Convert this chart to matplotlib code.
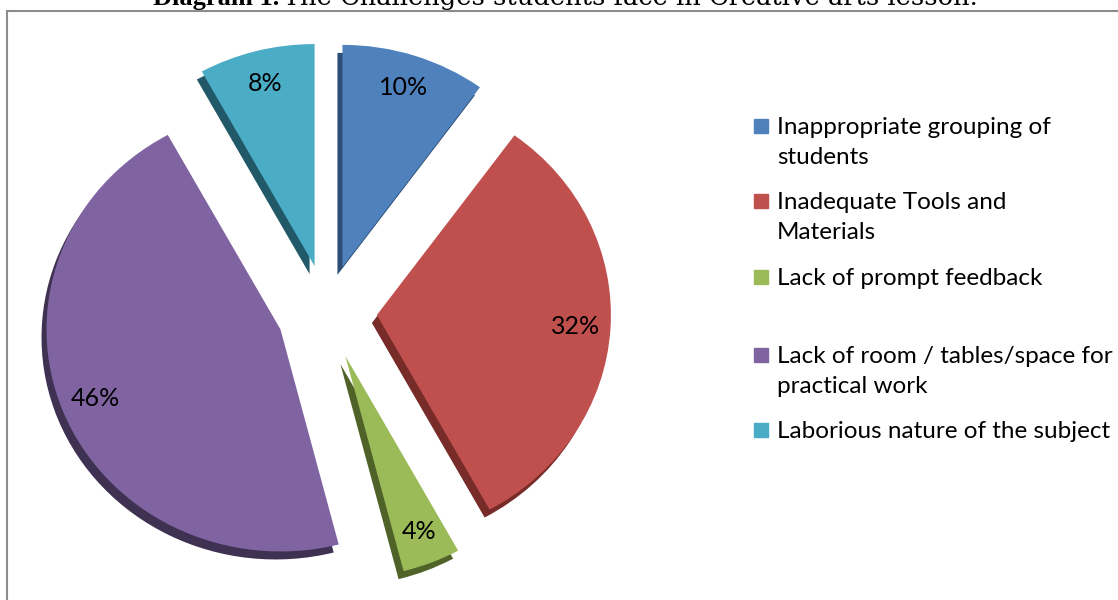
import matplotlib.pyplot as plt
from matplotlib.patches import Rectangle

categories = ['Inappropriate grouping of\nstudents',
              'Inadequate Tools and\nMaterials',
              'Lack of prompt feedback',
              'Lack of room / tables/space for\npractical work',
              'Laborious nature of the subject']
shares = [10, 32, 4, 46, 8]
colors = ['#4f81bd', '#c0504d', '#9bbb59', '#8064a2', '#4bacc6']
side_colors = ['#2c4d75', '#772c2a', '#4f6228', '#3f3151', '#215968']

W, H = 1118, 600
fig = plt.figure(figsize=(W / 100, H / 100), dpi=100)

# pie axes: x in pixels, y squashed a little so the pie is slightly oval
k = 222 / 234
ax = fig.add_axes([0, 0, 1, 1])
cx, cy, R = 327, (H - 312) / k, 234
explode = [50] * len(shares)   # pie explode is in data units here

# darker copy shifted down-left gives the 3D rim
ax.pie(shares, colors=side_colors, startangle=90, counterclock=False,
       explode=explode, radius=R, center=(cx - 5, cy - 8 / k), frame=True,
       wedgeprops=dict(linewidth=0))
ax.pie(shares, colors=colors, startangle=90, counterclock=False,
       explode=explode, radius=R, center=(cx, cy), frame=True,
       autopct='%d%%', pctdistance=0.85,
       textprops=dict(fontsize=18, family='Lato', color='black'),
       wedgeprops=dict(linewidth=0))
ax.set_xlim(0, W)
ax.set_ylim(0, H / k)
ax.set_aspect('auto')
ax.axis('off')

# overlay in plain pixel coords for legend, border and title
ov = fig.add_axes([0, 0, 1, 1])
ov.set_xlim(0, W)
ov.set_ylim(0, H)
ov.axis('off')

# legend drawn by hand so markers sit on the first line
leg_y = [126, 201, 277, 355, 430]
for lab, col, y in zip(categories, colors, leg_y):
    ov.add_patch(Rectangle((754, H - y - 7), 14, 14, color=col))
    ov.text(777, H - y + 9, lab, fontsize=17.5, family='Lato', va='top',
            ha='left', linespacing=1.55)

# chart border
ov.add_patch(Rectangle((7, -20), W, H - 11 + 20, fill=False,
                       edgecolor='#8c8c8c', linewidth=1.5, clip_on=False))

ov.text(153, H - 5, 'Diagram 1.', fontsize=19, family='Liberation Serif',
        weight='bold', va='baseline', ha='left', clip_on=False)
ov.text(283, H - 5, 'The Challenges students face in Creative arts lesson.',
        fontsize=18.5, family='DejaVu Serif', va='baseline', ha='left',
        clip_on=False)

fig.savefig('out.png', dpi=100)
